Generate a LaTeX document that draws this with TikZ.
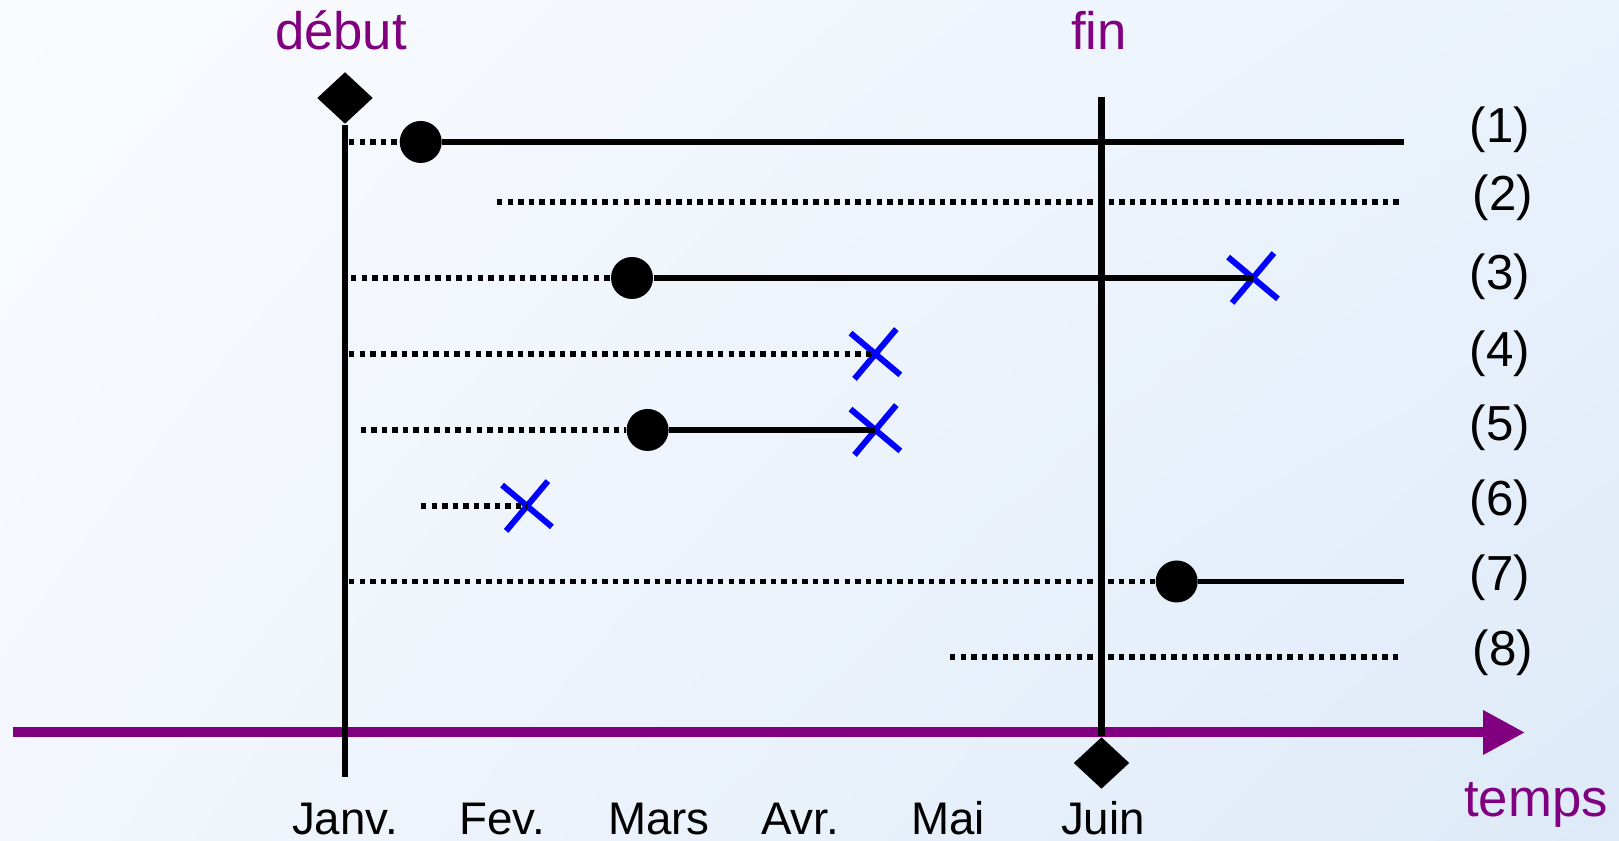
\documentclass[tikz,border=0pt]{standalone}
\usepackage{fontspec}
\setmainfont{Liberation Sans}
\usepackage{tikz}
\usetikzlibrary{shapes.geometric,shapes.misc,arrows.meta,positioning,shadings}
\definecolor{tagpurple}{HTML}{800080}
\definecolor{bgTL}{HTML}{FAFBFE}
\definecolor{bgTR}{HTML}{EAF2FC}
\definecolor{bgBL}{HTML}{F3F7FD}
\definecolor{bgBR}{HTML}{DEEAF8}
\tikzset
{
    milestone/.style = {diamond, fill=black, minimum width=5.6mm, minimum height=5.2mm, inner sep=0pt},
    eventdot/.style  = {circle, fill=black, minimum size=4.2mm, inner sep=0pt},
    stopmark/.style  = {cross out, draw=blue, line width=1.7pt, minimum size=4.0mm, inner sep=0pt, rotate=5},
    bound/.style     = {line width=1.8pt},
    active/.style    = {line width=1.5pt},
    idle/.style      = {line width=1.5pt, dash pattern=on 1.55pt off 1.45pt},
    timeaxis/.style  = {line width=2.85pt, draw=tagpurple, -{Triangle[length=4.2mm,width=4.2mm]}},
    tag/.style       = {text=tagpurple, font=\fontsize{15}{18}\selectfont, anchor=base, inner sep=0pt},
    month/.style     = {font=\fontsize{13}{16}\selectfont, anchor=base, inner sep=0pt},
    rowlabel/.style  = {font=\fontsize{14}{17}\selectfont, inner sep=0pt}
}

\begin{document}
\begin{tikzpicture}
\shade[upper left=bgTL, upper right=bgTR, lower left=bgBL, lower right=bgBR] (0,0) rectangle (16.19,8.41);
\useasboundingbox (0,0) rectangle (16.19,8.41);
% time axis
\coordinate (a0) at (0.125,1.085);
\coordinate (a1) at (15.25,1.085);
\draw[timeaxis] (a0) -- (a1);
\node(temps) [tag] at (15.36,0.243) {temps};
% start and end of the period
\node(debut) [tag] at (3.41,7.91) {début};
\node(fin) [tag] at (10.99,7.91) {fin};
\node(dstart) [milestone] at (3.45,7.43) {};
\node(dend) [milestone] at (11.015,0.78) {};
\coordinate (lstart) at (3.45,0.64);
\coordinate (lend) at (11.015,7.44);
\draw[bound] (dstart.south) -- (lstart);
\draw[bound] (lend) -- (dend.north);
% months
\node(m1) [month] at (3.45,0.06) {Janv.};
\node(m2) [month] at (5.02,0.06) {Fev.};
\node(m3) [month] at (6.59,0.06) {Mars};
\node(m4) [month] at (8.00,0.06) {Avr.};
\node(m5) [month] at (9.48,0.06) {Mai};
\node(m6) [month] at (11.03,0.06) {Juin};
% row (1)
\coordinate (s1) at (3.49,6.99);
\node(d1) [eventdot] at (4.207,6.99) {};
\coordinate (e1) at (14.035,6.99);
\draw[idle] (s1) -- (d1);
\draw[active] (d1) -- (e1);
% row (2)
\coordinate (s2) at (4.97,6.39);
\coordinate (e2) at (13.995,6.39);
\draw[idle] (s2) -- (e2);
% row (3)
\coordinate (s3) at (3.51,5.63);
\node(d3) [eventdot] at (6.32,5.63) {};
\node(x3) [stopmark] at (12.53,5.63) {};
\draw[idle] (s3) -- (d3);
\draw[active] (d3) -- (x3.center);
% row (4)
\coordinate (s4) at (3.49,4.87);
\node(x4) [stopmark] at (8.754,4.87) {};
\draw[idle] (s4) -- (x4.center);
% row (5)
\coordinate (s5) at (3.606,4.11);
\node(d5) [eventdot] at (6.476,4.11) {};
\node(x5) [stopmark] at (8.754,4.11) {};
\draw[idle] (s5) -- (d5);
\draw[active] (d5) -- (x5.center);
% row (6)
\coordinate (s6) at (4.21,3.35);
\node(x6) [stopmark] at (5.27,3.35) {};
\draw[idle] (s6) -- (x6.center);
% row (7)
\coordinate (s7) at (3.49,2.595);
\node(d7) [eventdot] at (11.767,2.595) {};
\coordinate (e7) at (14.04,2.595);
\draw[idle] (s7) -- (d7);
\draw[active] (d7) -- (e7);
% row (8)
\coordinate (s8) at (9.50,1.84);
\coordinate (e8) at (13.99,1.84);
\draw[idle] (s8) -- (e8);
% row numbers
\node(r1) [rowlabel] at (15.0,7.11) {(1)};
\node(r2) [rowlabel] at (15.03,6.43) {(2)};
\node(r3) [rowlabel] at (15.0,5.64) {(3)};
\node(r4) [rowlabel] at (15.0,4.87) {(4)};
\node(r5) [rowlabel] at (15.0,4.13) {(5)};
\node(r6) [rowlabel] at (15.0,3.38) {(6)};
\node(r7) [rowlabel] at (15.0,2.63) {(7)};
\node(r8) [rowlabel] at (15.03,1.885) {(8)};
\end{tikzpicture}
\end{document}
